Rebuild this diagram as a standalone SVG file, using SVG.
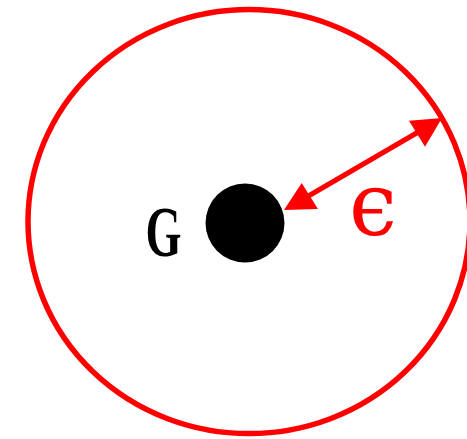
<svg xmlns="http://www.w3.org/2000/svg" width="467" height="439" viewBox="0 0 467 439">
<style>
.ring{fill:none;stroke:#ff0000;stroke-width:5.5}
.conn{stroke:#ff0000;stroke-width:5;fill:none}
.head{fill:#ff0000}
.lbl{font-family:"Liberation Serif","DejaVu Serif",serif;font-weight:bold;fill:#000}
.eps{font-family:"DejaVu Serif","Liberation Serif",serif;fill:#ff0000}
</style>
<rect width="467" height="439" fill="#fff"/>
<g id="ball">
<ellipse class="ring" cx="249" cy="221.6" rx="221" ry="212"/>
</g>
<g id="G">
<circle cx="245" cy="223" r="39.5" fill="#000"/>
<text class="lbl" x="145.5" y="256" font-size="71" textLength="36" lengthAdjust="spacingAndGlyphs">G</text>
</g>
<g id="connectors">
<line class="conn" x1="305" y1="198" x2="420" y2="131"/>
<polygon class="head" points="284,210 301.7,183 318,209"/>
<polygon class="head" points="442,118 409,120.7 425,146.7"/>
</g>
<g id="label-eps">
<text class="eps" x="349" y="235" font-size="88" textLength="48" lengthAdjust="spacingAndGlyphs">ϵ</text>
</g>
</svg>
